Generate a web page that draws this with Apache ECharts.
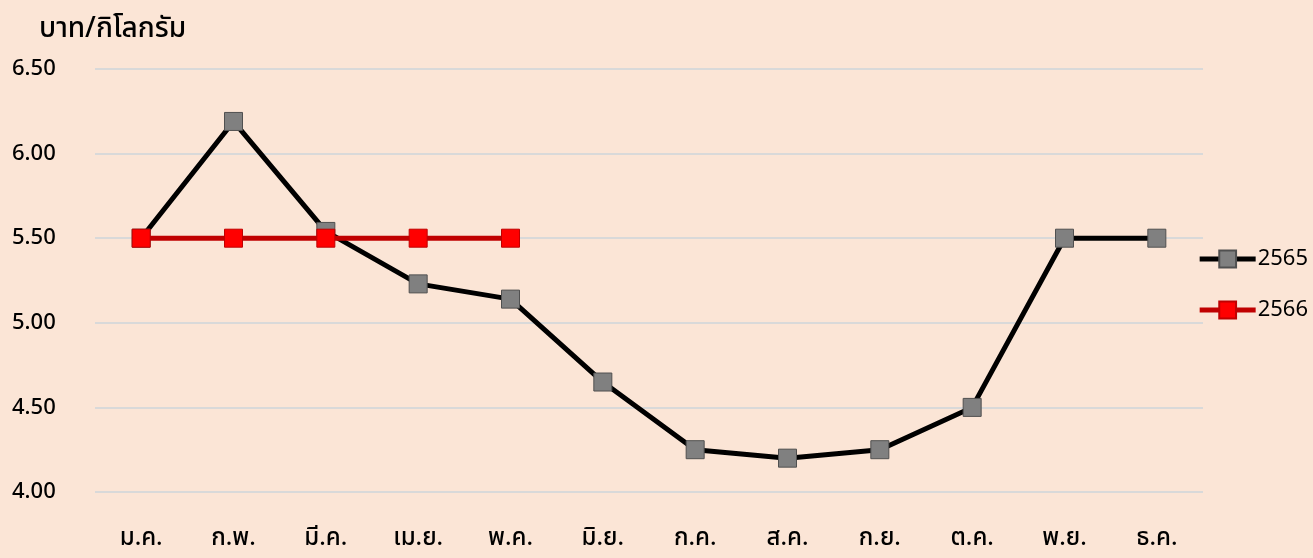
<!DOCTYPE html>
<html><head><meta charset="utf-8">
<script src="https://cdn.jsdelivr.net/npm/echarts@6/dist/echarts.min.js"></script>
<style>html,body{margin:0;padding:0;background:#FBE5D6;}#c{width:1313px;height:558px;}</style>
</head><body><div id="c"></div>
<script>
const months = ['ม.ค.','ก.พ.','มี.ค.','เม.ย.','พ.ค.','มิ.ย.','ก.ค.','ส.ค.','ก.ย.','ต.ค.','พ.ย.','ธ.ค.'];
const s2565 = [5.50, 6.19, 5.54, 5.23, 5.14, 4.65, 4.25, 4.20, 4.25, 4.50, 5.50, 5.50];
const s2566 = [5.50, 5.50, 5.50, 5.50, 5.50];
const unitLabel = 'บาท/กิโลกรัม';
const FONT = '"Noto Sans", "Noto Sans Thai", Tahoma, sans-serif';
const chart = echarts.init(document.getElementById('c'));
chart.setOption({
  backgroundColor: '#FBE5D6',
  textStyle: {fontFamily: FONT},
  title: {text: unitLabel, left: 34, top: 10, textStyle: {fontSize: 28, fontWeight: 500, color: '#000', fontFamily: FONT}},
  legend: {
    orient: 'vertical', right: 0, top: 243, itemWidth: 56, itemHeight: 21, itemGap: 29,
    textStyle: {fontSize: 22, color: '#000', fontFamily: FONT, padding: [0,0,0,-3]},
    data: [
      {name: '2565', lineStyle: {width: 5, color: '#000'}},
      {name: '2566', lineStyle: {width: 5, color: '#C00000'}}
    ]
  },
  grid: {left: 95, right: 110, top: 69, bottom: 66},
  xAxis: {
    type: 'category', data: months, boundaryGap: true,
    axisLine: {show: false}, axisTick: {show: false},
    axisLabel: {fontSize: 24, fontWeight: 500, color: '#000', margin: 34, fontFamily: FONT}
  },
  yAxis: {
    type: 'value', min: 4, max: 6.5, interval: 0.5,
    axisLine: {show: false}, axisTick: {show: false},
    axisLabel: {fontSize: 22, fontWeight: 500, color: '#000', margin: 83, align: 'left', formatter: v => v.toFixed(2), fontFamily: FONT},
    splitLine: {lineStyle: {color: '#D9D9D9', width: 2}}
  },
  series: [
    {name: '2565', type: 'line', data: s2565, symbol: 'rect', symbolSize: 18,
     lineStyle: {color: '#000', width: 5}, itemStyle: {color: '#808080', borderColor: '#505050', borderWidth: 1},
     z: 2},
    {name: '2566', type: 'line', data: s2566, symbol: 'rect', symbolSize: 18,
     lineStyle: {color: '#C00000', width: 5}, itemStyle: {color: '#FF0000', borderColor: '#C00000', borderWidth: 1},
     z: 3}
  ],
  animation: false
});
</script></body></html>
